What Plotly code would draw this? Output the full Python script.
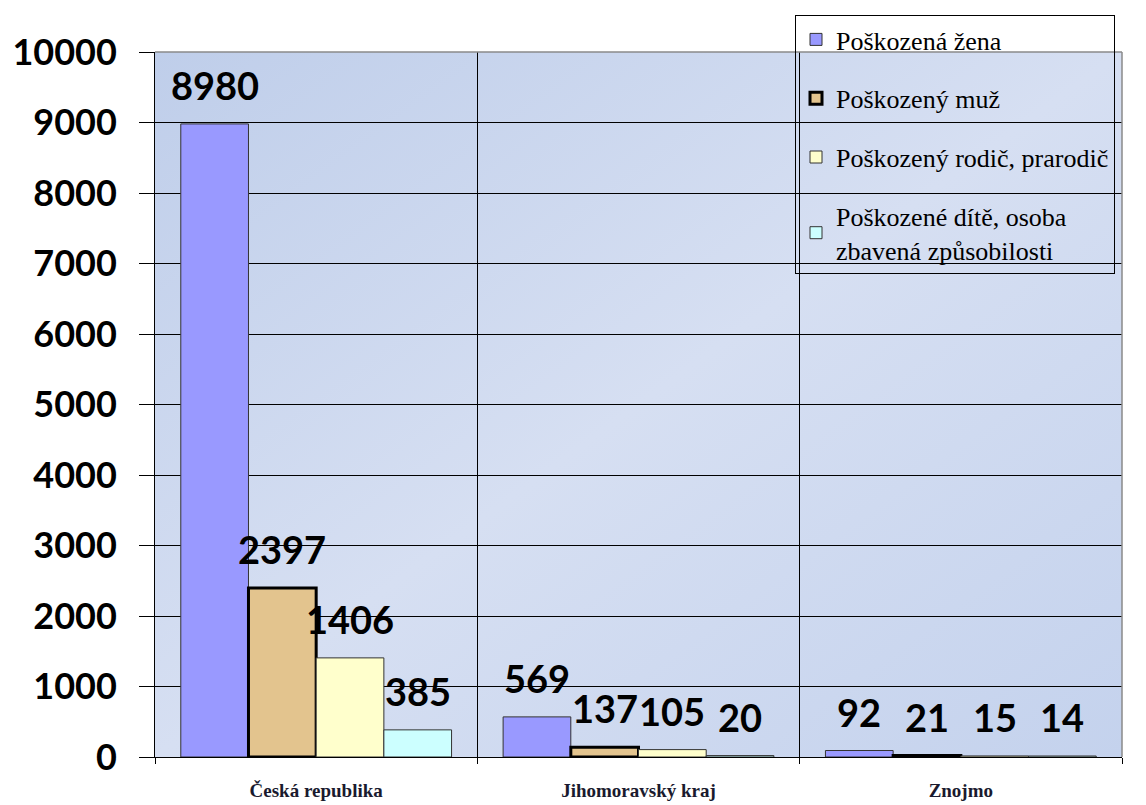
import base64
import plotly.graph_objects as go

categories = ["Česká republika", "Jihomoravský kraj", "Znojmo"]
series_names = ["Poškozená žena", "Poškozený muž", "Poškozený rodič, prarodič",
                "Poškozené dítě, osoba<br>zbavená způsobilosti"]
zena = [8980, 569, 92]
muz = [2397, 137, 21]
rodic = [1406, 105, 15]
dite = [385, 20, 14]
y_ticks = [0, 1000, 2000, 3000, 4000, 5000, 6000, 7000, 8000, 9000, 10000]
y_ticktext = [str(v) for v in y_ticks]

values = [zena, muz, rodic, dite]
colors = ["#9999FF", "#E3C48E", "#FFFFCC", "#CCFFFF"]
line_w = [1, 3, 1, 1]
line_c = ["#333333", "#000000", "#333333", "#333333"]

# the page body adds an 8px margin, so the figure is sized to fit inside it
W, H = 1138, 797
ML, MR, MT, MB = 147, 24, 44, 48
BARGAP = 0.16

fig = go.Figure()
for i, (name, vals) in enumerate(zip(series_names, values)):
    fig.add_trace(go.Bar(
        x=categories, y=vals, name=name,
        marker=dict(color=colors[i], line=dict(color=line_c[i], width=line_w[i])),
        legendgroup=str(i),
    ))

# data labels above each bar
plot_w = W - ML - MR
bar_px = plot_w / len(categories) * (1 - BARGAP) / len(values)
annotations = []
for i, vals in enumerate(values):
    for cat, v in zip(categories, vals):
        annotations.append(dict(
            x=cat, y=v, xref="x", yref="y", text=str(v), showarrow=False,
            xshift=(i - (len(values) - 1) / 2) * bar_px, yanchor="bottom", yshift=14,
            font=dict(family="Lato", size=38, color="#000000", weight="bold"),
        ))

svg = (
    '<svg xmlns="http://www.w3.org/2000/svg" width="100" height="100" preserveAspectRatio="none">'
    '<defs><linearGradient id="g" x1="0" y1="0" x2="1" y2="1">'
    '<stop offset="0" stop-color="#BFCEEA"/>'
    '<stop offset="0.5" stop-color="#D6DFF2"/>'
    '<stop offset="1" stop-color="#C4D2ED"/>'
    '</linearGradient></defs>'
    '<rect width="100" height="100" fill="url(#g)"/></svg>'
)
svg_uri = "data:image/svg+xml;base64," + base64.b64encode(svg.encode()).decode()

plot_h = H - MT - MB
fig.update_layout(
    width=W, height=H,
    barmode="group", bargap=BARGAP, bargroupgap=0,
    paper_bgcolor="#FFFFFF", plot_bgcolor="rgba(0,0,0,0)",
    margin=dict(l=ML, r=MR, t=MT, b=MB, autoexpand=False),
    showlegend=True,
    annotations=annotations,
    images=[dict(source=svg_uri, xref="paper", yref="paper", x=0, y=1,
                 sizex=1, sizey=1, xanchor="left", yanchor="top",
                 sizing="stretch", layer="below")],
    shapes=[
        dict(type="line", xref="paper", yref="paper", x0=0, x1=1, y0=1, y1=1,
             line=dict(color="#8a8a8a", width=1.5)),
        dict(type="line", xref="paper", yref="paper", x0=1, x1=1, y0=0, y1=1,
             line=dict(color="#8a8a8a", width=1.5)),
    ],
    legend=dict(
        x=(795 - 8 - ML) / plot_w, y=1 + (MT + 8 - 15) / plot_h,
        xanchor="left", yanchor="top",
        bgcolor="rgba(0,0,0,0)", bordercolor="#000000", borderwidth=1,
        font=dict(family="Liberation Serif", size=26, color="#000000"),
        traceorder="grouped", tracegroupgap=22,
    ),
    xaxis=dict(
        type="category", tickson="boundaries", showgrid=True,
        gridcolor="#000000", gridwidth=1, automargin=False,
        showline=True, linecolor="#000000", linewidth=1,
        ticks="outside", ticklen=6, tickcolor="#000000",
        ticklabelstandoff=16,
        tickfont=dict(family="Liberation Serif", size=19, color="#1a1a2e", weight="bold"),
    ),
    yaxis=dict(
        range=[0, 10000], tickvals=y_ticks, ticktext=y_ticktext, showgrid=True,
        gridcolor="#000000", gridwidth=1, automargin=False,
        showline=True, linecolor="#000000", linewidth=1,
        ticks="outside", ticklen=15, tickcolor="#000000",
        ticklabelstandoff=15,
        tickfont=dict(family="Lato", size=36, color="#000000", weight="bold"),
        zeroline=False,
    ),
)

fig.write_html("out.html")
